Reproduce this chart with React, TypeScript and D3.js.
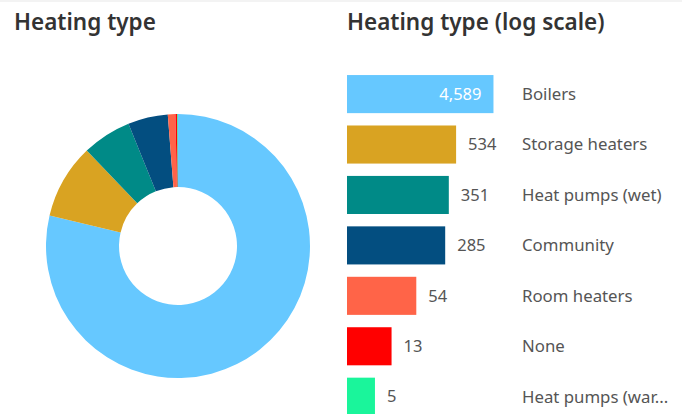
import { useMemo } from 'react';
import * as d3 from 'd3';

const categories = [
  'Boilers',
  'Storage heaters',
  'Heat pumps (wet)',
  'Community',
  'Room heaters',
  'None',
  'Heat pumps (war...',
];
const counts = [4589, 534, 351, 285, 54, 13, 5];
const colors = ['#66c8ff', '#d9a322', '#008a87', '#034e80', '#ff6448', '#ff0000', '#1af59b'];

const W = 682;
const H = 414;
const FONT = "'Noto Sans', 'Open Sans', sans-serif";

export default function App() {
  const rows = categories.map((c, i) => ({ name: c, value: counts[i], color: colors[i] }));

  const arcs = useMemo(() => {
    const pie = d3.pie<{ name: string; value: number; color: string }>()
      .sort(null)
      .value(d => d.value);
    return pie(rows);
  }, []);

  const arc = d3.arc<d3.PieArcDatum<{ name: string; value: number; color: string }>>()
    .innerRadius(59)
    .outerRadius(132);

  // log scale bars
  const x = d3.scaleLog().domain([1, 10000]).range([0, 160]);
  const y = d3.scaleBand<string>()
    .domain(categories)
    .range([69, 69 + 50.4 * 7])
    .paddingInner(0.245)
    .paddingOuter(0.12);

  const barLeft = 347;

  return (
    <div style={{ position: 'absolute', left: 0, top: 0 }}>
      <svg width={W} height={H} style={{ display: 'block', background: '#fff' }}>
        <rect x={0} y={0} width={W} height={2} fill="#f3f3f3" />
        <text x={14} y={30} fontFamily={FONT} fontSize={22.5} fontWeight={600} fill="#333">
          Heating type
        </text>
        <text x={347} y={30} fontFamily={FONT} fontSize={22.5} fontWeight={600} fill="#333">
          Heating type (log scale)
        </text>

        <g transform="translate(178,246)">
          {arcs.map(a => (
            <path key={a.data.name} d={arc(a) || ''} fill={a.data.color} />
          ))}
        </g>

        <g>
          {rows.map((d, i) => {
            const top = y(d.name) as number;
            const bw = x(d.value);
            const cy = top + y.bandwidth() / 2;
            const inside = i === 0;
            return (
              <g key={d.name}>
                <rect x={barLeft} y={top} width={bw} height={y.bandwidth()} fill={d.color} />
                <text
                  x={inside ? barLeft + bw - 12 : barLeft + bw + 12}
                  y={cy}
                  dy="0.35em"
                  textAnchor={inside ? 'end' : 'start'}
                  fontFamily={FONT}
                  fontSize={16.5}
                  fill={inside ? '#fff' : '#555'}
                >
                  {d3.format(',')(d.value)}
                </text>
                <text x={522} y={cy} dy="0.35em" fontFamily={FONT} fontSize={16.8} fill="#555">
                  {d.name}
                </text>
              </g>
            );
          })}
        </g>
      </svg>
    </div>
  );
}
